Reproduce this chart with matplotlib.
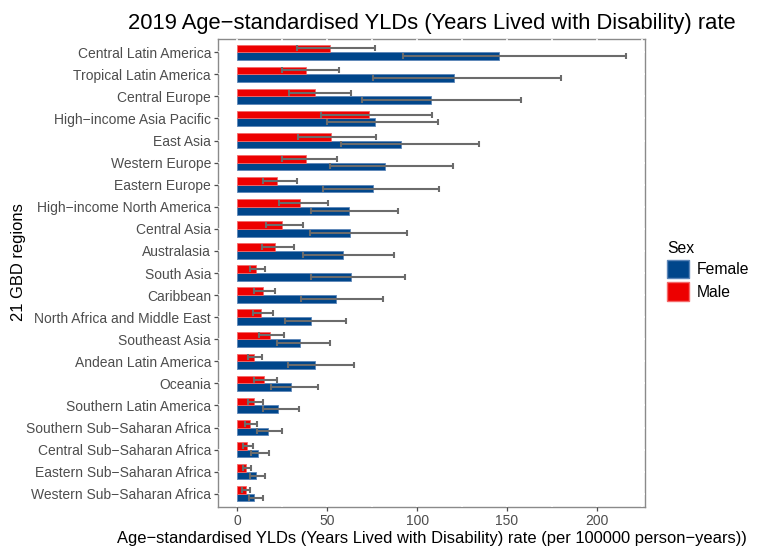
import matplotlib
matplotlib.use("Agg")
import matplotlib.pyplot as plt
import matplotlib.patches as mpatches
import numpy as np

plt.rcParams['font.family'] = ['Liberation Sans', 'DejaVu Sans']

regions = ["Central Latin America", "Tropical Latin America", "Central Europe",
           "High\u2212income Asia Pacific", "East Asia", "Western Europe", "Eastern Europe",
           "High\u2212income North America", "Central Asia", "Australasia", "South Asia",
           "Caribbean", "North Africa and Middle East", "Southeast Asia",
           "Andean Latin America", "Oceania", "Southern Latin America",
           "Southern Sub\u2212Saharan Africa", "Central Sub\u2212Saharan Africa",
           "Eastern Sub\u2212Saharan Africa", "Western Sub\u2212Saharan Africa"]

female_val = [145.7, 120.4, 107.6, 76.7, 90.9, 81.9, 75.7, 61.9, 62.8, 58.5, 63.5,
              55.0, 40.9, 35.0, 43.3, 29.6, 22.8, 16.9, 11.3, 10.6, 9.4]
female_lo = [92.2, 75.7, 69.3, 49.8, 57.6, 51.7, 47.4, 40.9, 40.6, 36.5, 40.7,
             35.4, 26.7, 22.2, 28.0, 18.7, 14.4, 10.7, 7.4, 7.0, 6.3]
female_hi = [216.1, 180.0, 157.8, 111.5, 134.4, 119.8, 112.2, 89.4, 94.4, 87.2, 93.1,
             81.3, 60.4, 51.3, 65.0, 44.6, 34.1, 24.8, 17.4, 15.4, 14.1]

male_val = [51.7, 38.3, 43.3, 73.0, 52.2, 38.3, 22.0, 35.0, 24.8, 21.1, 10.6,
            14.3, 13.1, 18.0, 9.1, 14.6, 9.1, 6.9, 5.4, 5.0, 4.8]
male_lo = [33.1, 24.8, 28.5, 46.5, 33.5, 24.8, 14.1, 23.3, 15.9, 13.9, 6.9,
           9.4, 8.5, 11.9, 5.7, 9.4, 5.7, 4.4, 3.3, 2.9, 2.8]
male_hi = [76.7, 56.3, 63.0, 108.3, 77.2, 55.7, 33.0, 50.7, 36.3, 31.3, 15.4,
           21.1, 19.6, 26.1, 13.7, 21.9, 14.1, 10.7, 8.7, 7.8, 7.2]

female_col = "#00468B"
male_col = "#ED0000"

fig = plt.figure(figsize=(7.58, 5.47), dpi=100)
ax = fig.add_axes([0.2876, 0.0731, 0.851 - 0.2876, 0.9287 - 0.0731])

n = len(regions)
y = np.arange(n)[::-1].astype(float)
h = 0.35

ax.barh(y - h / 2, female_val, height=h, color=female_col,
        edgecolor="#5d86b8", linewidth=0.6, zorder=2)
ax.barh(y + h / 2, male_val, height=h, color=male_col,
        edgecolor="#f46a6a", linewidth=0.6, zorder=2)

fv = np.array(female_val)
mv = np.array(male_val)
eb = dict(fmt="none", ecolor="#6b6b6b", elinewidth=1.5, capsize=2.4, capthick=1.5, zorder=3)
ax.errorbar(fv, y - h / 2, xerr=[fv - np.array(female_lo), np.array(female_hi) - fv], **eb)
ax.errorbar(mv, y + h / 2, xerr=[mv - np.array(male_lo), np.array(male_hi) - mv], **eb)

ax.set_xlim(-10.8, 226.9)
ax.set_ylim(-0.6, n - 0.4)
ax.set_yticks(y)
ax.set_yticklabels(regions)
ax.set_xticks([0, 50, 100, 150, 200])
ax.set_xticks([25, 75, 125, 175, 225], minor=True)

ax.set_axisbelow(True)
ax.grid(True, which="both", color="white", linewidth=1.2)
ax.tick_params(which="minor", length=0)
ax.tick_params(which="major", length=3, color="#4d4d4d", labelcolor="#4d4d4d",
               labelsize=10, width=0.9, pad=2)
for s in ax.spines.values():
    s.set_color("#8a8a8a")
    s.set_linewidth(1.0)
    s.set_zorder(0.3)

ax.set_xlabel("Age\u2212standardised YLDs (Years Lived with Disability) rate (per 100000 person\u2212years))",
              fontsize=11.9, labelpad=2)
ax.set_ylabel("21 GBD regions", fontsize=11.9)
ax.yaxis.set_label_coords(-0.45, 0.5235)
ax.set_title("2019 Age\u2212standardised YLDs (Years Lived with Disability) rate",
             fontsize=15.8, pad=7)

handles = [mpatches.Patch(facecolor=female_col, edgecolor="#5d86b8", label="Female"),
           mpatches.Patch(facecolor=male_col, edgecolor="#f46a6a", label="Male")]
leg = fig.legend(handles=handles, title="Sex", loc="center left",
                 bbox_to_anchor=(0.866, 0.505), frameon=False, fontsize=11.3,
                 title_fontsize=11.3, handlelength=1.35, handleheight=1.45,
                 handletextpad=0.5, labelspacing=0.25, borderpad=0.2)
leg._legend_box.align = "left"

fig.savefig("out.png", dpi=100)
